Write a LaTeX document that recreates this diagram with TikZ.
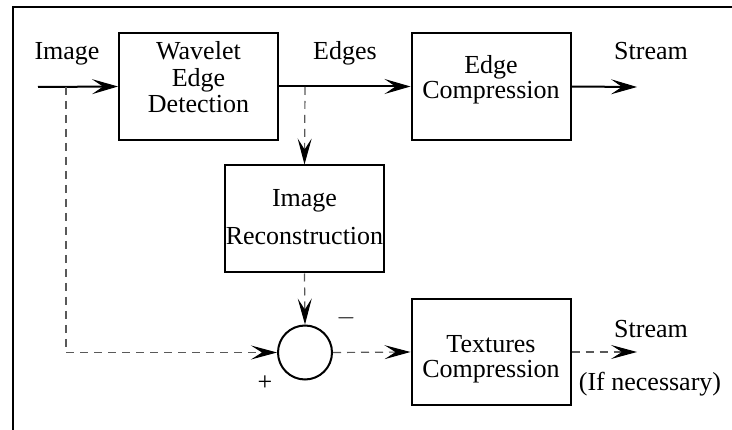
\documentclass[tikz,border=0pt]{standalone}
\usepackage{fontspec}
\setmainfont{Liberation Serif}
\usetikzlibrary{arrows.meta}
\begin{document}
\begin{tikzpicture}[x=1pt,y=-1pt,
  box/.style={draw,line width=2pt,minimum width=159pt,minimum height=107pt,inner sep=0pt},
  txt/.style={anchor=base,inner sep=0pt,font=\fontsize{26}{26}\selectfont},
  arr/.style={line width=2pt,-{Stealth[length=26pt,width=15pt,inset=11pt,line width=1pt]}},
  darr/.style={line width=1.2pt,black!65,dash pattern=on 8pt off 6pt,-{Stealth[length=26pt,width=14pt,inset=11pt,line width=1pt,color=black]}},
  dline/.style={line width=1.2pt,black!65,dash pattern=on 8pt off 6pt}]
\useasboundingbox (0,0) rectangle (732,430);
\draw[line width=2pt] (13,432) -- (13,7) -- (734,7);
% boxes
\node[box] (wed) at (198.5,86.5) {};
\node[box] (ec) at (491,86.5) {};
\node[box] (ir) at (304.5,219) {};
\node[box,minimum height=106pt] (tc) at (491,352) {};
\node[draw,circle,line width=2pt,minimum size=54pt,inner sep=0pt] (sum) at (305,352.5) {};
% texts
\node[txt] (t1) at (198.5,60) {Wavelet};
\node[txt] (t2) at (198.5,87) {Edge};
\node[txt] (t3) at (198.5,113) {Detection};
\node[txt] (t4) at (491,74) {Edge};
\node[txt] (t5) at (491,99) {Compression};
\node[txt] (t6) at (304.5,207) {Image};
\node[txt] (t7) at (304.5,245) {Reconstruction};
\node[txt] (t8) at (491,353) {Textures};
\node[txt] (t9) at (491,378) {Compression};
\node[txt] (limg) at (67,60) {Image};
\node[txt] (ledg) at (345,60) {Edges};
\node[txt] (ls1) at (651,60) {Stream};
\node[txt] (ls2) at (651,338) {Stream};
\node[txt] (lif) at (650,391) {(If necessary)};
\node[inner sep=0pt,font=\fontsize{26}{26}\selectfont] (lm) at (346,318) {$-$};
\node[inner sep=0pt,font=\fontsize{26}{26}\selectfont] (lp) at (265,383) {+};
% coordinates
\coordinate (in) at (38,87);
\coordinate (b1) at (66,87);
\coordinate (b1d) at (66,352.5);
\coordinate (b2) at (305,87);
\coordinate (out1) at (637,87);
\coordinate (out2) at (637,352);
% connectors
\draw[arr] (in) -- (wed.west);
\draw[arr] (wed.east) -- (ec.west);
\draw[arr] (ec.east) -- (out1);
\draw[dline] (b1) -- (b1d);
\draw[darr] (b1d) -- (sum.west);
\draw[darr] (b2) -- (ir.north);
\draw[darr] (ir.south) -- (sum.north);
\draw[darr] (sum.east) -- (tc.west);
\draw[darr] (tc.east) -- (out2);
\end{tikzpicture}
\end{document}
